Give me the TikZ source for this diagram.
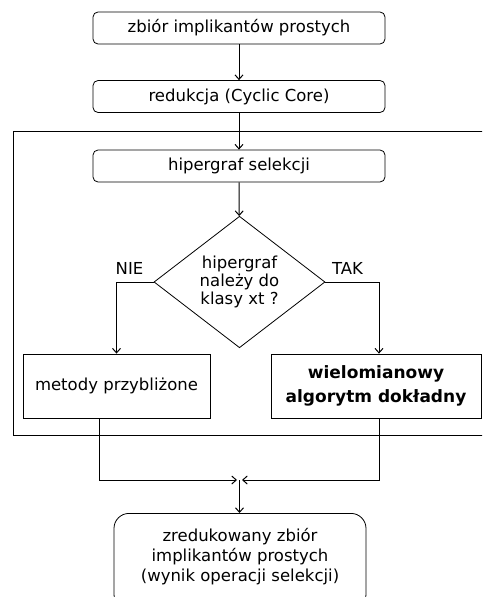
\documentclass[tikz,border=0pt]{standalone}
\usepackage{fontspec}
\setmainfont{DejaVu Sans}
\usetikzlibrary{shapes.geometric,arrows.meta}
\begin{document}
\begin{tikzpicture}[x=1pt,y=-1pt,font=\fontsize{16.5}{18}\selectfont,
	krok/.style={draw,line width=0.8pt,rounded corners=5pt,minimum width=292pt,minimum height=32pt,inner sep=0pt},
	metoda/.style={draw,line width=0.8pt,minimum height=64pt,inner sep=0pt,align=center},
	pytanie/.style={draw,diamond,line width=0.8pt,minimum width=171pt,minimum height=130pt,inner sep=0pt,align=center},
	strz/.style={line width=1pt,-{Straight Barb[length=4.5pt,width=8pt]}},
	linia/.style={line width=0.8pt}]
	\clip (0,0) rectangle (482,597);
	
	% ramka selekcji
	\draw[linia] (13,131) rectangle (486,435);
	
	\node[krok] (zbior) at (239,28) {zbiór implikantów prostych};
	\node[krok] (redukcja) at (239,96.5) {redukcja (Cyclic Core)};
	\node[krok] (hipergraf) at (239,166) {hipergraf selekcji};
	\node[pytanie] (klasa) at (239.5,282) {hipergraf\\należy do\\klasy xt ?};
	
	\node (nie) at (129.5,268) {NIE};
	\node (tak) at (347.5,268) {TAK};
	
	\node[metoda,minimum width=187pt] (przybl) at (116.5,386) {metody przybliżone};
	\node[metoda,minimum width=210pt,font=\fontsize{17}{24}\selectfont\bfseries] (dokladny) at (376,386) {wielomianowy\\algorytm dokładny};
	
	\node[draw,line width=0.8pt,rounded corners=15pt,minimum width=252pt,minimum height=96pt,inner sep=0pt,align=center,anchor=north,font=\fontsize{16.5}{20}\selectfont] (wynik) at (240,513)
		{zredukowany zbiór\\implikantów prostych\\(wynik operacji selekcji)\\[-6pt]};
	
	\coordinate (lewy) at (237,480);
	\coordinate (prawy) at (242,480);
	\coordinate (wezel) at (239.5,480);
	
	\draw[strz] (zbior) -- (redukcja);
	\draw[strz] (redukcja) -- (hipergraf);
	\draw[strz] (hipergraf) -- (klasa);
	\draw[strz] (klasa.west) -| (przybl.north);
	\draw[strz] (klasa.east) -| (dokladny.north -| 379,0);
	\draw[strz] (przybl.south -| 99,0) |- (lewy);
	\draw[strz] (dokladny.south -| 379,0) |- (prawy);
	\draw[strz] (wezel) -- (wynik.north -| wezel);
\end{tikzpicture}
\end{document}
